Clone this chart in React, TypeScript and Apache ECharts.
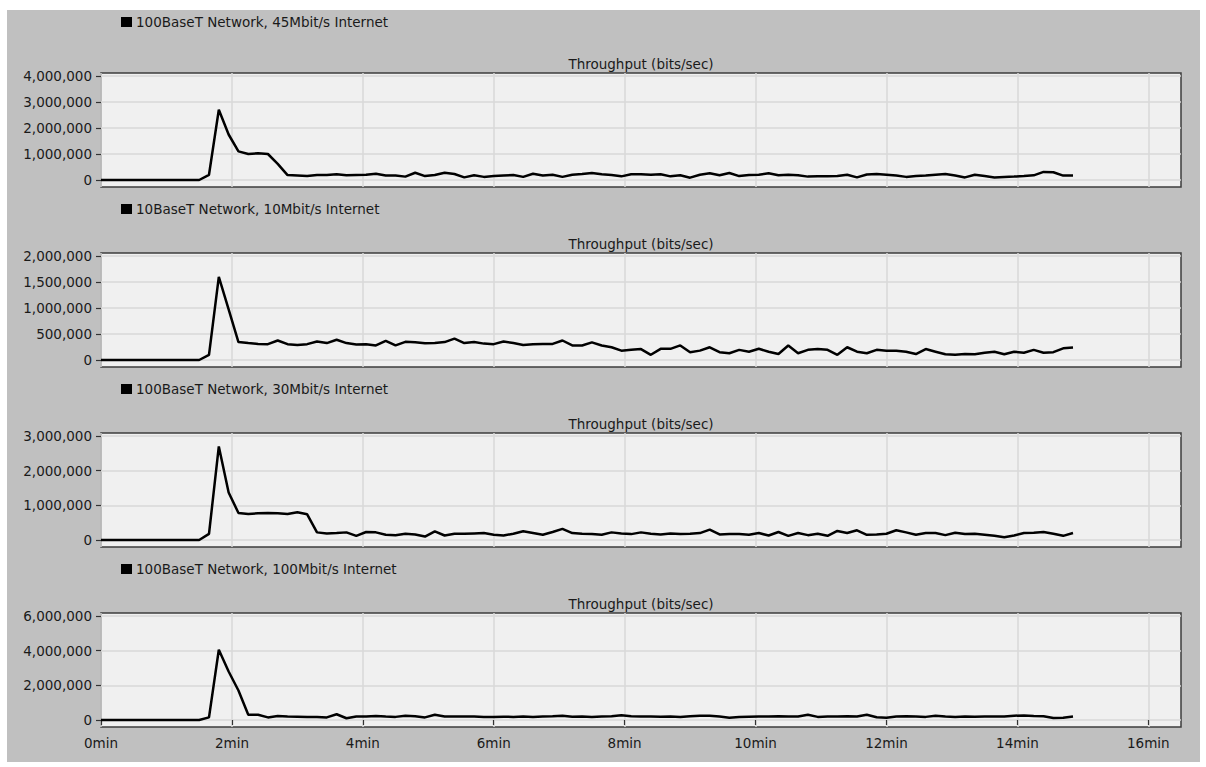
import React, { useEffect, useRef } from "react";
import * as echarts from "echarts";

// ---------- data ----------
const SAMPLE_STEP_MIN = 0.15; // sampling interval of the statistic (minutes)

const panelNames = [
  "100BaseT Network, 45Mbit/s Internet",
  "10BaseT Network, 10Mbit/s Internet",
  "100BaseT Network, 30Mbit/s Internet",
  "100BaseT Network, 100Mbit/s Internet",
];
const statTitle = "Throughput (bits/sec)";

const xTicks = [0, 2, 4, 6, 8, 10, 12, 14, 16];
const xMaxMin = 16.5;

const yMaxes = [4000000, 2000000, 3000000, 6000000];
const yIntervals = [1000000, 500000, 1000000, 2000000];
const yTicks45 = [0, 1000000, 2000000, 3000000, 4000000];
const yTicks10 = [0, 500000, 1000000, 1500000, 2000000];
const yTicks30 = [0, 1000000, 2000000, 3000000];
const yTicks100 = [0, 2000000, 4000000, 6000000];

const net45 = [
  0, 0, 0, 0, 0, 0, 0, 0, 0, 0, 0,
  200000, 2700000, 1750000, 1100000, 1000000, 1030000, 1000000, 620000, 190000,
  170000, 150000, 190000, 190000, 220000, 180000, 190000, 200000, 240000, 170000,
  170000, 130000, 280000, 150000, 190000, 280000, 230000, 100000, 180000, 120000,
  150000, 170000, 190000, 120000, 240000, 170000, 200000, 120000, 200000, 230000,
  270000, 220000, 190000, 140000, 220000, 220000, 200000, 220000, 140000, 180000,
  90000, 200000, 260000, 180000, 270000, 150000, 190000, 200000, 260000, 180000,
  200000, 180000, 130000, 140000, 140000, 150000, 200000, 100000, 210000, 230000,
  200000, 170000, 120000, 150000, 170000, 200000, 230000, 170000, 100000, 200000,
  150000, 100000, 120000, 130000, 150000, 180000, 310000, 300000, 170000, 170000,
];

const net10 = [
  0, 0, 0, 0, 0, 0, 0, 0, 0, 0, 0,
  100000, 1600000, 975000, 345000, 325000, 310000, 305000, 375000, 305000,
  290000, 305000, 355000, 325000, 390000, 325000, 300000, 305000, 280000, 370000,
  280000, 350000, 340000, 320000, 325000, 345000, 410000, 325000, 345000, 315000,
  305000, 355000, 325000, 290000, 305000, 310000, 310000, 375000, 280000, 280000,
  340000, 280000, 245000, 180000, 195000, 210000, 100000, 215000, 215000, 280000,
  150000, 180000, 245000, 150000, 130000, 195000, 160000, 215000, 160000, 115000,
  280000, 130000, 195000, 210000, 195000, 100000, 245000, 160000, 130000, 195000,
  180000, 180000, 160000, 115000, 210000, 160000, 110000, 100000, 115000, 110000,
  140000, 160000, 110000, 160000, 140000, 195000, 140000, 150000, 225000, 240000,
];

const net30 = [
  0, 0, 0, 0, 0, 0, 0, 0, 0, 0, 0,
  175000, 2700000, 1370000, 780000, 750000, 770000, 780000, 770000, 750000,
  800000, 740000, 220000, 190000, 200000, 220000, 120000, 230000, 220000, 150000,
  140000, 180000, 160000, 100000, 250000, 130000, 180000, 180000, 190000, 200000,
  150000, 130000, 180000, 250000, 200000, 150000, 230000, 320000, 200000, 180000,
  170000, 150000, 220000, 190000, 170000, 220000, 180000, 160000, 190000, 170000,
  180000, 200000, 300000, 160000, 170000, 170000, 150000, 200000, 130000, 230000,
  120000, 200000, 140000, 180000, 120000, 260000, 200000, 280000, 150000, 160000,
  180000, 280000, 220000, 150000, 200000, 200000, 140000, 210000, 170000, 180000,
  150000, 120000, 80000, 130000, 200000, 210000, 230000, 180000, 120000, 200000,
];

const net100 = [
  0, 0, 0, 0, 0, 0, 0, 0, 0, 0, 0,
  150000, 4050000, 2800000, 1700000, 300000, 300000, 150000, 230000, 200000,
  190000, 180000, 180000, 150000, 330000, 100000, 200000, 200000, 230000, 200000,
  180000, 250000, 220000, 150000, 300000, 200000, 200000, 200000, 200000, 180000,
  170000, 190000, 180000, 200000, 180000, 200000, 210000, 250000, 190000, 200000,
  180000, 200000, 220000, 280000, 220000, 200000, 200000, 190000, 200000, 180000,
  220000, 250000, 240000, 200000, 130000, 170000, 190000, 200000, 200000, 210000,
  200000, 200000, 300000, 180000, 200000, 200000, 220000, 200000, 300000, 160000,
  130000, 200000, 220000, 200000, 180000, 250000, 200000, 180000, 200000, 190000,
  200000, 200000, 200000, 250000, 260000, 230000, 220000, 120000, 130000, 200000,
];

const seriesData = [net45, net10, net30, net100];
const yTickSets = [yTicks45, yTicks10, yTicks30, yTicks100];

// ---------- layout / style ----------
const W = 1206;
const H = 767;
const PLOT_LEFT = 101;
const PLOT_W = 1080;
const FRAME_H = 114;
const PAD_TOP = 3;
const PAD_BOTTOM = 7;
const FRAME_TOPS = [73, 253, 433, 613];
const LEGEND_Y = [22, 209, 389, 569];
const FONT = "DejaVu Sans";
const FS = 13.5;

const fmtNum = (v: number) => Math.round(v).toLocaleString("en-US");

export default function App() {
  const ref = useRef<HTMLDivElement>(null);

  useEffect(() => {
    if (!ref.current) return;
    const chart = echarts.init(ref.current, undefined, { renderer: "svg" });
    const dataH = FRAME_H - PAD_TOP - PAD_BOTTOM;

    const grids: any[] = [];
    const xAxes: any[] = [];
    const yAxes: any[] = [];
    const series: any[] = [];
    const graphics: any[] = [
      {
        type: "rect",
        z: -100,
        shape: { x: 7, y: 10, width: 1193, height: 752 },
        style: { fill: "#c0c0c0" },
        silent: true,
      },
    ];

    for (let p = 0; p < 4; p++) {
      const isLast = p === 3;
      const M = yMaxes[p];
      grids.push({
        left: PLOT_LEFT,
        top: FRAME_TOPS[p],
        width: PLOT_W,
        height: FRAME_H,
        show: true,
        backgroundColor: "#f0f0f0",
        borderColor: "#3c3c3c",
        borderWidth: 1.5,
        containLabel: false,
      });
      xAxes.push({
        type: "value",
        gridIndex: p,
        min: 0,
        max: xMaxMin,
        interval: 2,
        axisLine: { show: false },
        axisTick: {
          show: isLast,
          customValues: xTicks,
          length: 5,
          lineStyle: { color: "#333", width: 1.2 },
        },
        axisLabel: {
          show: isLast,
          customValues: xTicks,
          formatter: (v: number) => `${v}min`,
          margin: 9,
          color: "#1a1a1a",
          fontFamily: FONT,
          fontSize: FS,
        },
        splitLine: { show: true, lineStyle: { color: "#d8d8d8", width: 1.5 } },
      });
      yAxes.push({
        type: "value",
        gridIndex: p,
        min: (-M * PAD_BOTTOM) / dataH,
        max: M * (1 + PAD_TOP / dataH),
        splitNumber: yTickSets[p].length - 1,
        minInterval: yIntervals[p],
        maxInterval: yIntervals[p],
        axisLine: { show: false },
        axisTick: {
          show: true,
          customValues: yTickSets[p],
          length: 5,
          lineStyle: { color: "#333", width: 1.2 },
        },
        axisLabel: {
          show: true,
          customValues: yTickSets[p],
          formatter: fmtNum,
          margin: 9,
          color: "#1a1a1a",
          fontFamily: FONT,
          fontSize: FS,
        },
        splitLine: { show: true, lineStyle: { color: "#d8d8d8", width: 1.5 } },
      });
      series.push({
        type: "line",
        name: panelNames[p],
        xAxisIndex: p,
        yAxisIndex: p,
        showSymbol: false,
        symbol: "none",
        lineStyle: { color: "#000", width: 2.5 },
        data: seriesData[p].map((v, i) => [i * SAMPLE_STEP_MIN, v]),
        z: 5,
      });

      graphics.push({
        type: "rect",
        shape: { x: 121, y: LEGEND_Y[p] - 5, width: 11, height: 10 },
        style: { fill: "#000" },
        silent: true,
      });
      graphics.push({
        type: "text",
        x: 136,
        y: LEGEND_Y[p],
        style: {
          text: panelNames[p],
          fill: "#1a1a1a",
          font: `${FS}px "${FONT}"`,
          textVerticalAlign: "middle",
          verticalAlign: "middle",
        },
        silent: true,
      });
      graphics.push({
        type: "text",
        x: PLOT_LEFT + PLOT_W / 2,
        y: FRAME_TOPS[p] - 9,
        style: {
          text: statTitle,
          fill: "#1a1a1a",
          font: `${FS}px "${FONT}"`,
          align: "center",
          textAlign: "center",
          verticalAlign: "middle",
          textVerticalAlign: "middle",
        },
        silent: true,
      });
    }

    chart.setOption({
      animation: false,
      backgroundColor: "#ffffff",
      grid: grids,
      xAxis: xAxes,
      yAxis: yAxes,
      series,
      graphic: graphics,
    });

    return () => chart.dispose();
  }, []);

  return (
    <div
      ref={ref}
      style={{ position: "absolute", left: 0, top: 0, width: W, height: H }}
    />
  );
}
